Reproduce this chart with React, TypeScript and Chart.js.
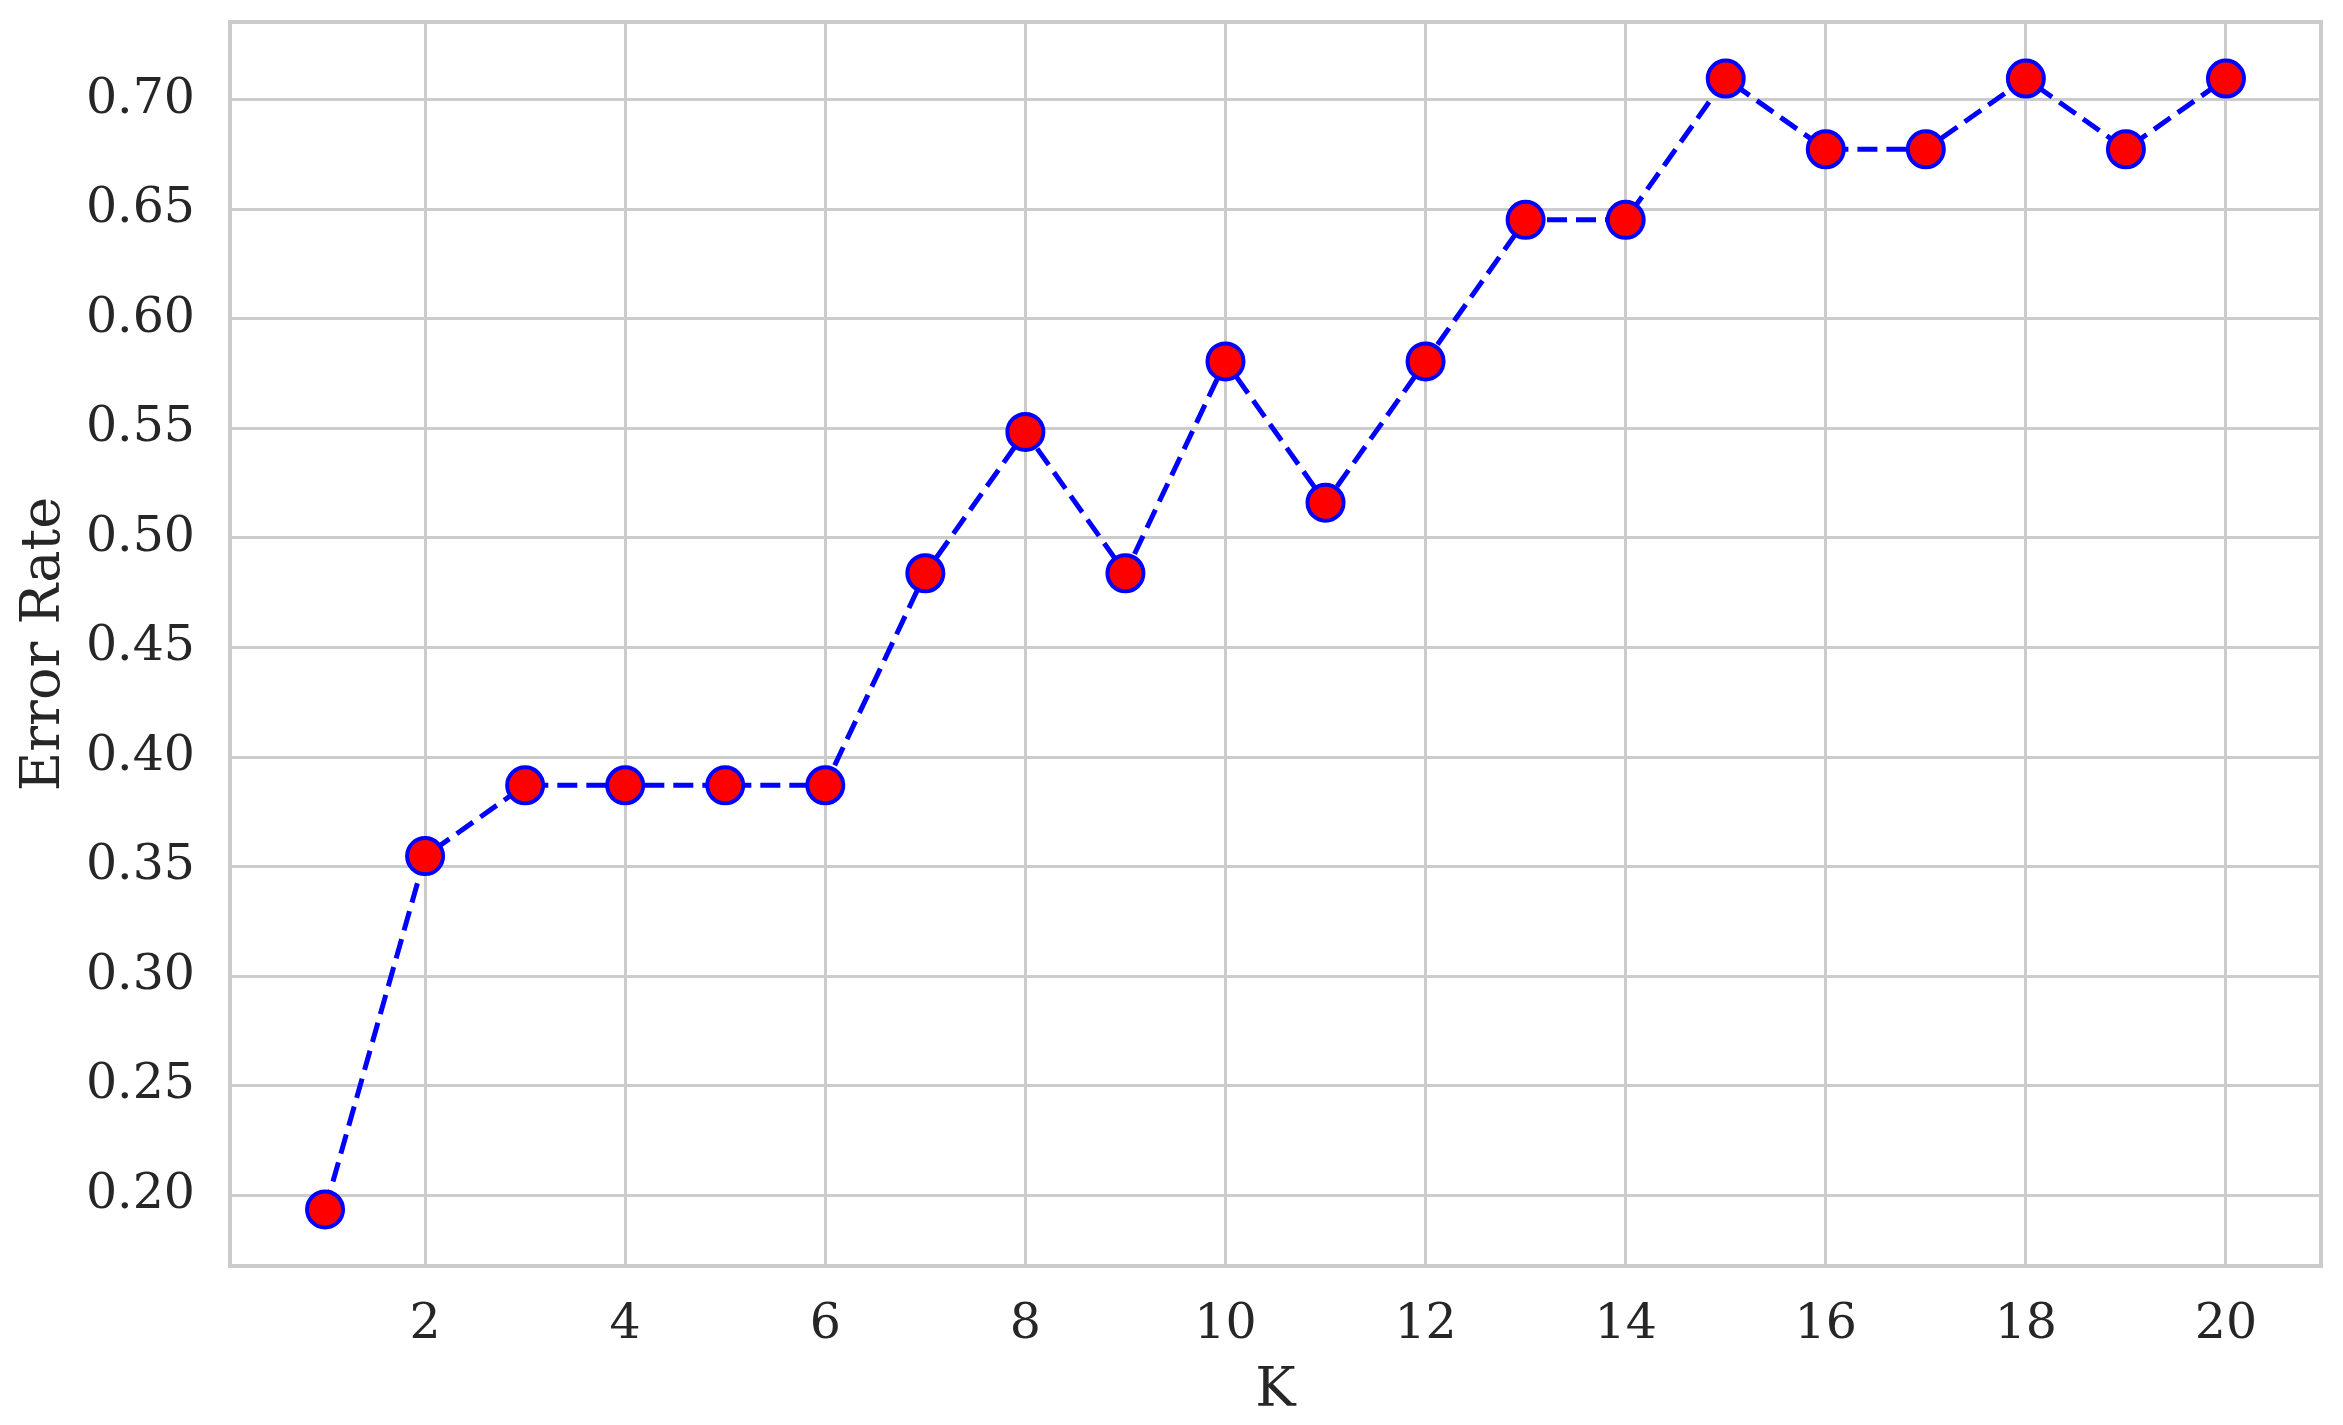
import React, { useEffect, useRef } from "react";
import { Chart, registerables } from "chart.js";

Chart.register(...registerables);

const kValues = [1, 2, 3, 4, 5, 6, 7, 8, 9, 10, 11, 12, 13, 14, 15, 16, 17, 18, 19, 20];
const errorRates = [
  0.1935, 0.3548, 0.3871, 0.3871, 0.3871, 0.3871, 0.4839, 0.5484, 0.4839, 0.5806,
  0.5161, 0.5806, 0.6452, 0.6452, 0.7097, 0.6774, 0.6774, 0.7097, 0.6774, 0.7097,
];
const xTickValues = [2, 4, 6, 8, 10, 12, 14, 16, 18, 20];
const yTickValues = [0.2, 0.25, 0.3, 0.35, 0.4, 0.45, 0.5, 0.55, 0.6, 0.65, 0.7];
const xAxisLabel = "K";
const yAxisLabel = "Error Rate";

const W = 2343;
const H = 1425;
const FONT = "'DejaVu Serif', serif";
const TEXT = "#262626";
const GRID = "#cccccc";

const framePlugin = {
  id: "frame",
  beforeDatasetsDraw(chart: any) {
    const { ctx, chartArea } = chart;
    ctx.save();
    ctx.strokeStyle = GRID;
    ctx.lineWidth = 4;
    ctx.strokeRect(chartArea.left, chartArea.top, chartArea.right - chartArea.left, chartArea.bottom - chartArea.top);
    ctx.restore();
  },
};

export default function App() {
  const ref = useRef<HTMLCanvasElement | null>(null);

  useEffect(() => {
    if (!ref.current) return;
    const points = kValues.map((k, i) => ({ x: k, y: errorRates[i] }));
    const yMin = Math.min(...errorRates);
    const yMax = Math.max(...errorRates);
    const yPad = (yMax - yMin) * 0.05;
    const xMin = Math.min(...kValues);
    const xMax = Math.max(...kValues);
    const xPad = (xMax - xMin) * 0.05;

    const chart = new Chart(ref.current, {
      type: "line",
      data: {
        datasets: [
          {
            data: points,
            borderColor: "blue",
            borderWidth: 5,
            borderDash: [20, 9],
            borderCapStyle: "butt",
            backgroundColor: "red",
            pointBackgroundColor: "red",
            pointBorderColor: "blue",
            pointBorderWidth: 4,
            pointRadius: 18,
            pointHoverRadius: 18,
            tension: 0,
            fill: false,
            clip: false,
          },
        ],
      },
      options: {
        responsive: false,
        animation: false,
        devicePixelRatio: 1,
        layout: { padding: { left: 0, top: 16, right: 19, bottom: 0 } },
        plugins: {
          legend: { display: false },
          tooltip: { enabled: false },
          title: { display: false },
        },
        scales: {
          x: {
            type: "linear",
            min: xMin - xPad,
            max: xMax + xPad,
            afterBuildTicks: (scale: any) => {
              scale.ticks = xTickValues.map((v) => ({ value: v }));
            },
            afterFit: (scale: any) => {
              scale.height = H - 1266;
              scale.paddingLeft = 0;
              scale.paddingRight = 0;
            },
            ticks: {
              color: TEXT,
              font: { family: FONT, size: 49 },
              padding: 30,
              maxRotation: 0,
              autoSkip: false,
              callback: (v: any) => String(v),
            },
            grid: { color: GRID, lineWidth: 3, drawTicks: false },
            border: { display: false },
            title: {
              display: true,
              text: xAxisLabel,
              color: TEXT,
              font: { family: FONT, size: 54 },
              padding: { top: 0, bottom: 1 },
            },
          },
          y: {
            type: "linear",
            min: yMin - yPad,
            max: yMax + yPad,
            afterBuildTicks: (scale: any) => {
              scale.ticks = yTickValues.map((v) => ({ value: v }));
            },
            afterFit: (scale: any) => {
              scale.width = 230;
              scale.paddingTop = 0;
              scale.paddingBottom = 0;
            },
            ticks: {
              color: TEXT,
              font: { family: FONT, size: 49 },
              padding: 35,
              autoSkip: false,
              callback: (v: any) => Number(v).toFixed(2),
            },
            grid: { color: GRID, lineWidth: 3, drawTicks: false },
            border: { display: false },
            title: {
              display: true,
              text: yAxisLabel,
              color: TEXT,
              font: { family: FONT, size: 54 },
              padding: { top: 13, bottom: 0 },
            },
          },
        },
      },
      plugins: [framePlugin],
    });
    return () => chart.destroy();
  }, []);

  return (
    <div style={{ position: "fixed", left: 0, top: 0, width: W, height: H, background: "#fff" }}>
      <canvas ref={ref} width={W} height={H} style={{ display: "block", width: W, height: H }} />
    </div>
  );
}
